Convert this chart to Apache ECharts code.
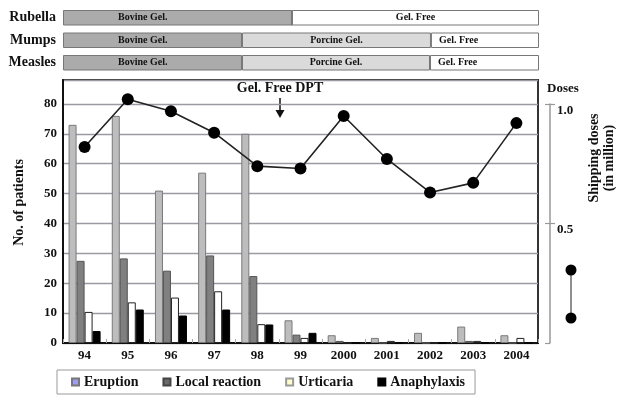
<!DOCTYPE html>
<html>
<head>
<meta charset="utf-8">
<script src="https://cdn.jsdelivr.net/npm/echarts@6/dist/echarts.min.js"></script>
<style>html,body{margin:0;padding:0;background:#fff}#c{width:618px;height:396px}</style>
</head>
<body>
<div id="c"></div>
<script>
// ---- data ----
const years = ['94','95','96','97','98','99','2000','2001','2002','2003','2004'];
const eruption      = [73, 76, 51, 57, 70, 7.6, 2.6, 1.7, 3.4, 5.5, 2.6];
const localReaction = [27.5, 28.3, 24.2, 29.3, 22.4, 2.8, 0.7, 0, 0, 0.7, 0];
const urticaria     = [10.4, 13.6, 15.2, 17.3, 6.3, 1.7, 0, 0.7, 0, 0.7, 1.7];
const anaphylaxis   = [4.0, 11.2, 9.2, 11.2, 6.2, 3.4, 0, 0, 0, 0, 0];
const doses         = [0.82, 1.02, 0.97, 0.88, 0.74, 0.73, 0.95, 0.77, 0.63, 0.67, 0.92];

const vaccines = ['Rubella', 'Mumps', 'Measles'];
const bovineGel  = [48.1, 37.6, 37.6];
const porcineGel = [0, 39.7, 39.5];
const gelFree    = [51.9, 22.7, 22.9];

const patientMax = 88;
const patientInterval = 10;
const doseTicks = [0, 0.5, 1.0];

// ---- chart ----
const F = 'Liberation Serif';
const txt = (size) => ({ fontFamily: F, fontWeight: 'bold', fontSize: size, color: '#111' });
const chart = echarts.init(document.getElementById('c'), null, { renderer: 'canvas' });

const segLabel = (name) => ({
  show: true,
  formatter: (p) => (p.value > 0 ? name : ''),
  ...txt(10)
});

const option = {
  animation: false,
  backgroundColor: '#fff',
  grid: [
    { left: 63, right: 80, top: 80, bottom: 53, show: true, borderColor: '#333', borderWidth: 2, backgroundColor: 'transparent' },
    { left: 63, right: 80, top: 104, bottom: 53 },
    { left: 63, right: 79, top: 6.5, height: 67.5 },
    { left: 63, right: 80, top: 104, bottom: 53 }
  ],
  xAxis: [
    { type: 'category', gridIndex: 0, data: years,
      axisLine: { lineStyle: { color: '#111', width: 2 } },
      axisTick: { show: true, inside: true, length: 4, lineStyle: { color: '#aaa' } },
      axisLabel: { ...txt(13), margin: 6, interval: 0 },
      splitLine: { show: false } },
    { type: 'category', gridIndex: 1, data: years, show: false },
    { type: 'value', gridIndex: 2, min: 0, max: 100, show: false },
    { type: 'category', gridIndex: 3, data: years, show: false }
  ],
  yAxis: [
    { type: 'value', gridIndex: 0, min: 0, max: patientMax, interval: patientInterval,
      axisLine: { show: true, lineStyle: { color: '#111', width: 2 } },
      axisTick: { show: false },
      axisLabel: { ...txt(13), margin: 6, showMaxLabel: false },
      splitLine: { show: true, lineStyle: { color: '#9a9aa2', width: 1.3 } },
      name: 'No. of patients', nameLocation: 'middle', nameGap: 37, nameRotate: 90,
      nameTextStyle: { ...txt(14), padding: [0, 0, 0, 18] } },
    { type: 'value', gridIndex: 1, position: 'right', offset: 12,
      min: doseTicks[0], max: doseTicks[2], interval: doseTicks[1],
      axisLine: { show: true, lineStyle: { color: '#999', width: 1.5 } },
      axisTick: { show: true, length: 5, lineStyle: { color: '#999', width: 1.2 } },
      axisLabel: { ...txt(13), margin: 7, showMinLabel: false, verticalAlign: 'top',
        formatter: (v) => v.toFixed(1) },
      splitLine: { show: false },
      name: 'Doses', nameLocation: 'end', nameGap: 9,
      nameTextStyle: { ...txt(13), align: 'left', padding: [0, 0, 0, -3] } },
    { type: 'category', gridIndex: 2, data: vaccines, inverse: true,
      axisLine: { show: false }, axisTick: { show: false },
      axisLabel: { ...txt(14), margin: 7 } },
    { type: 'value', gridIndex: 3, position: 'right', offset: 12,
      min: doseTicks[0], max: doseTicks[2], interval: doseTicks[1],
      axisLine: { show: false },
      axisTick: { show: true, inside: true, length: 5, lineStyle: { color: '#999', width: 1.2 } },
      axisLabel: { show: false }, splitLine: { show: false } }
  ],
  legend: {
    left: 57, top: 370, orient: 'horizontal',
    padding: [5, 10, 5, 14],
    itemWidth: 7, itemHeight: 7, itemGap: 24, icon: 'rect',
    borderColor: '#999', borderWidth: 1,
    textStyle: txt(14),
    data: [
      { name: 'Eruption', itemStyle: { color: '#9c9cf0', borderColor: '#777' } },
      { name: 'Local reaction', itemStyle: { color: '#6a6a6a', borderColor: '#444' } },
      { name: 'Urticaria', itemStyle: { color: '#ffffcc', borderColor: '#999' } },
      { name: 'Anaphylaxis', itemStyle: { color: '#000', borderColor: '#000' } }
    ]
  },
  graphic: [
    { type: 'text', x: 280, y: 88, style: { text: 'Gel. Free DPT', font: 'bold 14px "Liberation Serif"', fill: '#111', textAlign: 'center', textVerticalAlign: 'middle' } },
    { type: 'line', shape: { x1: 280, y1: 98, x2: 280, y2: 112 }, style: { stroke: '#111', lineWidth: 1.5 } },
    { type: 'polygon', shape: { points: [[275.5, 110], [284.5, 110], [280, 118]] }, style: { fill: '#111' } },
    { type: 'text', x: 602, y: 158, rotation: Math.PI / 2,
      style: { text: 'Shipping doses\n(in million)', font: 'bold 14px "Liberation Serif"', fill: '#111', textAlign: 'center', textVerticalAlign: 'middle', lineHeight: 15 } },
    { type: 'line', shape: { x1: 571, y1: 270, x2: 571, y2: 318 }, style: { stroke: '#444', lineWidth: 1.2 } },
    { type: 'circle', shape: { cx: 571, cy: 270, r: 5.5 }, style: { fill: '#000' } },
    { type: 'circle', shape: { cx: 571, cy: 318, r: 5.5 }, style: { fill: '#000' } }
  ],
  series: [
    { name: 'Eruption', type: 'bar', xAxisIndex: 0, yAxisIndex: 0, data: eruption,
      barWidth: 8, barGap: '0%',
      itemStyle: { color: '#bdbdbd', borderColor: '#7a7a7a', borderWidth: 1 } },
    { name: 'Local reaction', type: 'bar', xAxisIndex: 0, yAxisIndex: 0, data: localReaction,
      barWidth: 8, barGap: '0%',
      itemStyle: { color: '#808080', borderColor: '#555', borderWidth: 1 } },
    { name: 'Urticaria', type: 'bar', xAxisIndex: 0, yAxisIndex: 0, data: urticaria,
      barWidth: 8, barGap: '0%',
      itemStyle: { color: '#ffffff', borderColor: '#222', borderWidth: 1 } },
    { name: 'Anaphylaxis', type: 'bar', xAxisIndex: 0, yAxisIndex: 0, data: anaphylaxis,
      barWidth: 8, barGap: '0%',
      itemStyle: { color: '#000', borderColor: '#000', borderWidth: 1 } },
    { name: 'Doses', type: 'line', xAxisIndex: 1, yAxisIndex: 1, data: doses,
      symbol: 'circle', symbolSize: 12, z: 10, clip: false,
      itemStyle: { color: '#000' }, lineStyle: { color: '#222', width: 1.6 } },
    { name: 'Bovine Gel.', type: 'bar', xAxisIndex: 2, yAxisIndex: 2, stack: 'gel', barWidth: 15.5,
      data: bovineGel.map((v) => ({ value: v, label: { position: 'insideLeft', distance: 55 } })),
      label: segLabel('Bovine Gel.'),
      itemStyle: { color: '#ababab', borderColor: '#777', borderWidth: 1 } },
    { name: 'Porcine Gel.', type: 'bar', xAxisIndex: 2, yAxisIndex: 2, stack: 'gel', barWidth: 15.5,
      data: porcineGel.map((v) => ({ value: v, label: { position: 'inside' } })),
      label: segLabel('Porcine Gel.'),
      itemStyle: { color: '#dadada', borderColor: '#777', borderWidth: 1 } },
    { name: 'Gel. Free', type: 'bar', xAxisIndex: 2, yAxisIndex: 2, stack: 'gel', barWidth: 15.5,
      data: gelFree.map((v, i) => ({ value: v, label: i === 0 ? { position: 'inside' } : { position: 'insideLeft', distance: 8 } })),
      label: segLabel('Gel. Free'),
      itemStyle: { color: '#ffffff', borderColor: '#777', borderWidth: 1 } }
  ]
};
chart.setOption(option);
</script>
</body>
</html>
